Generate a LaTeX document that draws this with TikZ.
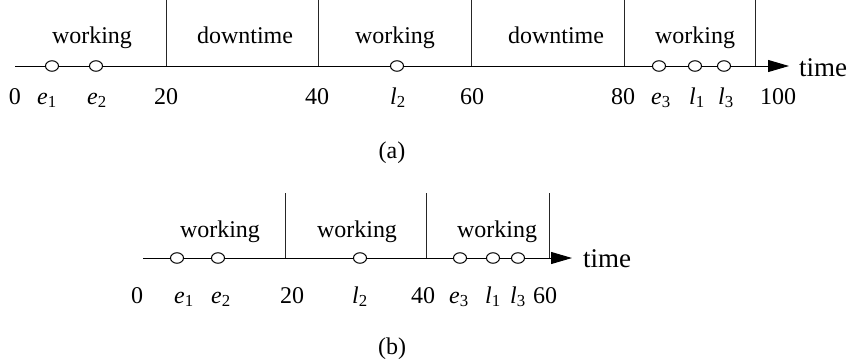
\documentclass[tikz,border=0pt]{standalone}
\usepackage{fontspec}
\setmainfont{Liberation Serif}
\usetikzlibrary{arrows.meta, positioning, shapes.geometric}

\newcommand{\evt}[2]{\textit{#1}\textsubscript{#2}}

\tikzset{
  axis/.style={line width=1pt, -{Triangle[length=21pt, width=12pt]}},
  bar/.style={line width=1pt, black!85},
  event/.style={draw, ellipse, fill=white, line width=1pt, minimum width=13pt, minimum height=10.5pt, inner sep=0pt},
  lbl/.style={anchor=base, inner sep=0pt, font=\fontsize{24}{28}\selectfont},
  timelbl/.style={anchor=base west, inner sep=0pt, font=\fontsize{27}{32}\selectfont},
}

\begin{document}
\begin{tikzpicture}[x=1pt, y=-1pt]
\useasboundingbox (0,0) rectangle (854,362);

% Schedule (a)
\coordinate (a0) at (15,66);
\coordinate (aend) at (789,66);
\draw[axis] (a0) -- (aend);
\node[timelbl] (atime) at (799,76) {time};

\coordinate (a20) at (166,66);  \coordinate (a20t) at (166,0);
\coordinate (a40) at (318,66);  \coordinate (a40t) at (318,0);
\coordinate (a60) at (471,66);  \coordinate (a60t) at (471,0);
\coordinate (a80) at (624,66);  \coordinate (a80t) at (624,0);
\coordinate (a100) at (755,66); \coordinate (a100t) at (755,0);
\draw[bar] (a20t) -- (a20);
\draw[bar] (a40t) -- (a40);
\draw[bar] (a60t) -- (a60);
\draw[bar] (a80t) -- (a80);
\draw[bar] (a100t) -- (a100);

\node[event] (ae1) at (52,66) {};
\node[event] (ae2) at (96,66) {};
\node[event] (al2) at (397,66) {};
\node[event] (ae3) at (659,66) {};
\node[event] (al1) at (695,66) {};
\node[event] (al3) at (724,66) {};

\node[lbl] (aw1) at (92,43) {working};
\node[lbl] (ad1) at (245,43) {downtime};
\node[lbl] (aw2) at (395,43) {working};
\node[lbl] (ad2) at (556,43) {downtime};
\node[lbl] (aw3) at (695,43) {working};

\node[lbl] (at0) at (15,104) {0};
\node[lbl] (ate1) at (47,104) {\evt{e}{1}};
\node[lbl] (ate2) at (97,104) {\evt{e}{2}};
\node[lbl] (at20) at (166,104) {20};
\node[lbl] (at40) at (317,104) {40};
\node[lbl] (atl2) at (398,104) {\evt{l}{2}};
\node[lbl] (at60) at (472,104) {60};
\node[lbl] (at80) at (623,104) {80};
\node[lbl] (ate3) at (661,104) {\evt{e}{3}};
\node[lbl] (atl1) at (697,104) {\evt{l}{1}};
\node[lbl] (atl3) at (726,104) {\evt{l}{3}};
\node[lbl] (at100) at (778,104) {100};

\node[lbl] (capa) at (392,158) {(a)};

% Schedule (b)
\coordinate (b0) at (143,258);
\coordinate (bend) at (572,258);
\draw[axis] (b0) -- (bend);
\node[timelbl] (btime) at (583,267) {time};

\coordinate (b20) at (285,258); \coordinate (b20t) at (285,193);
\coordinate (b40) at (426,258); \coordinate (b40t) at (426,193);
\coordinate (b60) at (549,258); \coordinate (b60t) at (549,193);
\draw[bar] (b20t) -- (b20);
\draw[bar] (b40t) -- (b40);
\draw[bar] (b60t) -- (b60);

\node[event] (be1) at (177,258) {};
\node[event] (be2) at (218,258) {};
\node[event] (bl2) at (360,258) {};
\node[event] (be3) at (460,258) {};
\node[event] (bl1) at (493,258) {};
\node[event] (bl3) at (518,258) {};

\node[lbl] (bw1) at (220,237) {working};
\node[lbl] (bw2) at (357,237) {working};
\node[lbl] (bw3) at (497,237) {working};

\node[lbl] (bt0) at (137,303) {0};
\node[lbl] (bte1) at (184,303) {\evt{e}{1}};
\node[lbl] (bte2) at (221,303) {\evt{e}{2}};
\node[lbl] (bt20) at (292,303) {20};
\node[lbl] (btl2) at (360,303) {\evt{l}{2}};
\node[lbl] (bt40) at (423,303) {40};
\node[lbl] (bte3) at (459,303) {\evt{e}{3}};
\node[lbl] (btl1) at (493,303) {\evt{l}{1}};
\node[lbl] (btl3) at (518,303) {\evt{l}{3}};
\node[lbl] (bt60) at (545,303) {60};

\node[lbl] (capb) at (392,354) {(b)};
\end{tikzpicture}
\end{document}
